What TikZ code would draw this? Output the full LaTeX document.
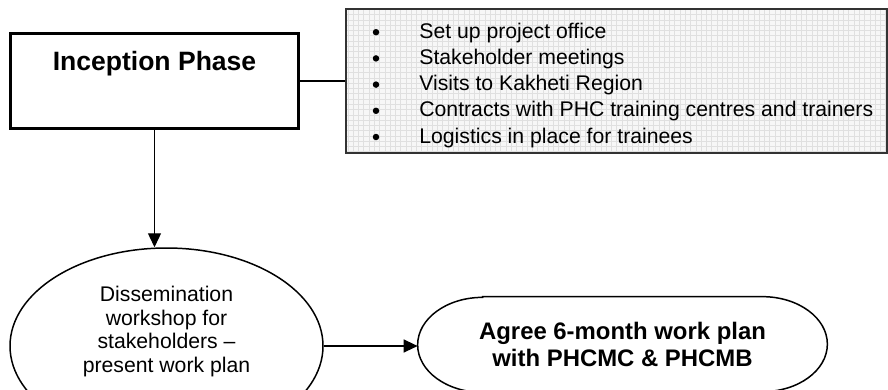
\documentclass[tikz,border=0pt]{standalone}
\usepackage{fontspec}
\setmainfont{Liberation Sans}
\usetikzlibrary{shapes.geometric,arrows.meta,patterns}
\tikzset{
  phasebox/.style={draw=black, line width=1.7pt, minimum width=5.76cm, minimum height=1.9cm, inner sep=0pt},
  phaselabel/.style={font=\fontsize{15.1}{18}\selectfont\bfseries, anchor=base, inner sep=0pt},
  taskbox/.style={draw=black!80, line width=0.6pt, minimum width=10.82cm, minimum height=2.88cm, preaction={fill=black!3}, pattern=grid, pattern color=black!12},
  tasklabel/.style={font=\fontsize{12.07}{14}\selectfont, anchor=base west, inner sep=0pt},
  taskdot/.style={circle, fill=black, minimum size=0.13cm, inner sep=0pt},
  eventoval/.style={ellipse, draw=black, line width=0.85pt, minimum width=6.26cm, minimum height=3.92cm, inner sep=0pt},
  eventlabel/.style={font=\fontsize{12.07}{13.3}\selectfont, align=center, inner sep=0pt},
  goalbox/.style={minimum width=8.18cm, minimum height=1.9cm, inner sep=0pt, align=center, font=\fontsize{13.6}{15.8}\selectfont\bfseries},
  goaledge/.style={draw=black, line width=0.85pt},
  joinline/.style={draw=black, line width=0.75pt},
  flowarrow/.style={joinline, -{Triangle[length=0.28cm, width=0.26cm]}},
}

\begin{document}
\begin{tikzpicture}
\useasboundingbox (0,0) rectangle (17.76,7.78);
\clip (0,0) rectangle (17.76,7.78);
\node[phasebox] (incep) at (3.09,6.16) {};
\node[phaselabel] (incepname) at (3.09,6.38) {Inception Phase};
\node[taskbox] (tasks) at (12.33,6.16) {};
\foreach \task [count=\i] in {Set up project office, Stakeholder meetings, Visits to Kakheti Region, Contracts with PHC training centres and trainers, Logistics in place for trainees} {
  \node[taskdot] (dot\i) at (7.52,7.66-0.524*\i) {};
  \node[tasklabel] (task\i) at (8.38,7.54-0.524*\i) {\task};
}
\node[eventoval] (diss) at (3.33,0.86) {};
\node[eventlabel] (disstext) at (3.33,1.15) {Dissemination\\workshop for\\stakeholders –\\present work plan};
\node[goalbox] (agree) at (12.45,0.89) {Agree 6-month work plan\\with PHCMC \& PHCMB};
\draw[goaledge] ([xshift=1.3cm]agree.north west) -- ([xshift=-1.3cm]agree.north east)
  arc[start angle=90, end angle=-90, x radius=1.3cm, y radius=0.95cm]
  -- ([xshift=1.3cm]agree.south west)
  arc[start angle=270, end angle=90, x radius=1.3cm, y radius=0.95cm] -- cycle;
\draw[joinline] (incep) -- (tasks);
\draw[flowarrow] (incep.south) -- (incep.south |- diss.north);
\draw[flowarrow] (diss.east) -- (diss.east -| agree.west);
\end{tikzpicture}
\end{document}
